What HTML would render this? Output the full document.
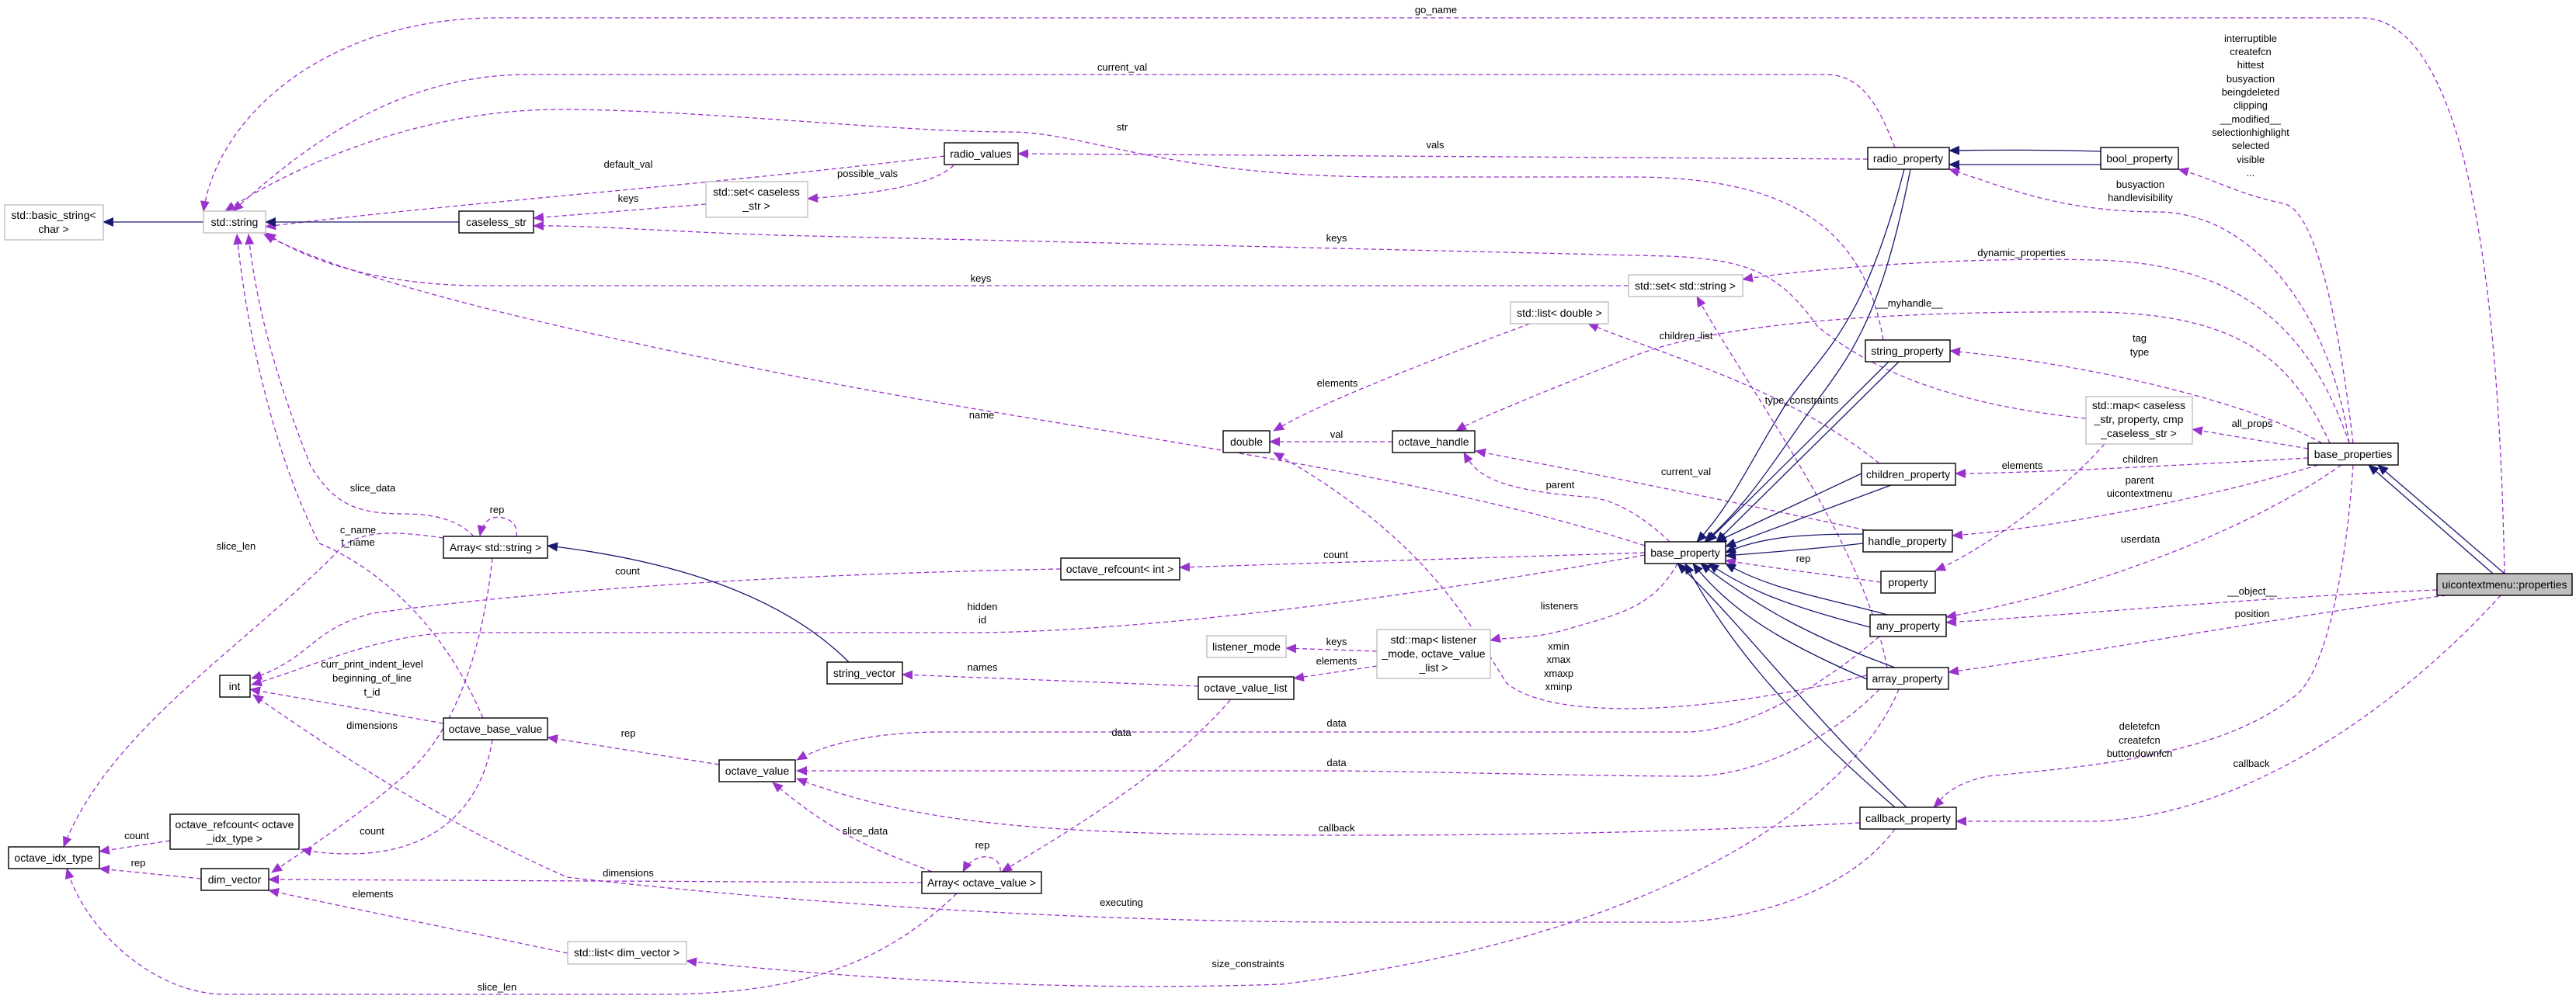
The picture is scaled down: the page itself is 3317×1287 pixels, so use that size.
<!DOCTYPE html>
<html><head><meta charset="utf-8"><style>
html,body{margin:0;padding:0;background:#fff;}
svg{display:block;}
.n{fill:#fff;stroke:#000;stroke-width:1.4;}
.g{fill:#fff;stroke:#bfbfbf;stroke-width:1.4;}
.d{fill:none;stroke:#9a32cd;stroke-width:1.3;stroke-dasharray:6,4;marker-end:url(#pa);}
.i{fill:none;stroke:#191970;stroke-width:1.3;marker-end:url(#na);}
text{font-family:"Liberation Sans",sans-serif;font-size:13px;fill:#000;text-anchor:middle;}
.t{font-size:14px;}
</style></head><body>
<svg width="3317" height="1287" viewBox="0 0 3317 1287" xmlns="http://www.w3.org/2000/svg">
<defs>
<marker id="pa" markerUnits="userSpaceOnUse" markerWidth="14" markerHeight="12" refX="13" refY="6" orient="auto"><path d="M0,0 L14,6 L0,12 z" fill="#9a32cd"/></marker>
<marker id="na" markerUnits="userSpaceOnUse" markerWidth="14" markerHeight="12" refX="13" refY="6" orient="auto"><path d="M0,0 L14,6 L0,12 z" fill="#191970"/></marker>
</defs>

<!-- dashed edges -->
<path class="d" d="M3225,739 C3220,500 3200,23 3040,23 L640,23 C420,23 280,150 262,272"/>
<path class="d" d="M2440,190 C2420,140 2400,96 2350,96 L680,96 C520,96 400,180 300,272"/>
<path class="d" d="M2425,438 C2400,290 2300,228 2100,228 L1790,228 C1500,228 1400,170 1300,170 C1150,170 900,141 720,141 C560,141 400,200 290,272"/>
<path class="d" d="M2405,205 L1311,198"/>
<path class="d" d="M1216,201 C900,240 600,260 342,292"/>
<path class="d" d="M1228,213 C1200,240 1120,250 1040,256"/>
<path class="d" d="M909,263 L687,281"/>
<path class="d" d="M2686,539 C2500,520 2400,470 2340,420 C2290,350 2250,335 2150,330 L1000,303 C850,298 760,290 687,291"/>
<path class="d" d="M2097,368 L620,368 C500,368 400,340 342,300"/>
<path class="d" d="M2118,703 C1800,600 1400,560 1000,480 C700,420 450,360 340,302"/>
<path class="d" d="M610,691 C590,670 560,662 520,662 C460,662 430,650 400,600 C360,500 330,400 320,302"/>
<path class="d" d="M622,925 C560,780 460,720 411,700 C360,600 320,450 305,302"/>
<path class="d" d="M665,691 C668,672 650,664 635,667 C625,670 620,680 618,690"/>
<path class="d" d="M571,693 C520,686 470,680 440,705 C320,830 140,940 82,1091"/>
<path class="d" d="M634,719 C620,850 580,950 520,1000 C450,1060 400,1090 350,1124"/>
<path class="d" d="M634,953 C620,1040 560,1100 450,1100 C420,1100 400,1097 388,1094"/>
<path class="d" d="M571,932 L322,888"/>
<path class="d" d="M1366,733 C1000,740 700,760 480,790 C400,810 400,850 324,874"/>
<path class="d" d="M2118,715 C1700,790 1400,815 1250,815 L580,815 C480,820 400,860 324,882"/>
<path class="d" d="M2440,1068 C2380,1150 2250,1188 2150,1188 L1750,1188 C1300,1188 900,1150 730,1130 C550,1050 420,960 326,895"/>
<path class="d" d="M2118,712 L1519,731"/>
<path class="d" d="M2160,726 C2130,780 2090,790 2020,810 C1970,825 1940,820 1919,825"/>
<path class="d" d="M1773,839 L1656,835"/>
<path class="d" d="M1773,858 L1666,874"/>
<path class="d" d="M1543,884 L1162,869"/>
<path class="d" d="M1584,902 C1500,1000 1360,1080 1290,1123"/>
<path class="d" d="M926,985 L705,950"/>
<path class="d" d="M2420,820 C2350,880 2250,943 2170,943 L1214,943 C1120,943 1060,960 1026,979"/>
<path class="d" d="M2420,888 C2350,960 2250,1000 2180,1000 C2050,1000 1800,993 1700,993 L1026,993"/>
<path class="d" d="M2395,1060 C2200,1070 2000,1076 1750,1076 C1400,1076 1200,1070 1026,1003"/>
<path class="d" d="M1200,1123 C1130,1095 1080,1080 995,1008"/>
<path class="d" d="M1288,1123 C1290,1100 1255,1095 1240,1123"/>
<path class="d" d="M1187,1137 L346,1133"/>
<path class="d" d="M1232,1151 C1150,1230 1050,1281 850,1281 L290,1281 C200,1281 110,1200 86,1119"/>
<path class="d" d="M2445,888 C2400,1000 2200,1200 1650,1268 C1300,1280 1000,1250 884,1238"/>
<path class="d" d="M731,1228 C600,1200 450,1170 346,1147"/>
<path class="d" d="M219,1083 L128,1097"/>
<path class="d" d="M259,1132 L128,1119"/>
<path class="d" d="M1970,417 C1800,480 1700,520 1640,555"/>
<path class="d" d="M1793,569 L1635,569"/>
<path class="d" d="M2150,698 C2100,650 2060,640 2040,640 C1920,630 1900,610 1885,583"/>
<path class="d" d="M2403,683 C2200,640 2050,610 1900,581"/>
<path class="d" d="M2404,870 C2200,920 2000,930 1940,880 C1900,820 1850,700 1640,583"/>
<path class="d" d="M2420,597 C2300,500 2150,460 2045,417"/>
<path class="d" d="M3000,571 C2950,460 2880,405 2700,402 C2400,400 2200,420 2100,460 C2000,500 1900,540 1875,555"/>
<path class="d" d="M3025,571 C2980,440 2900,340 2700,335 C2500,330 2300,350 2244,360"/>
<path class="d" d="M2430,860 C2400,700 2250,500 2185,382"/>
<path class="d" d="M3025,571 C3000,400 2900,275 2780,273 C2650,273 2580,240 2510,218"/>
<path class="d" d="M3030,571 C3010,400 2980,270 2940,262 C2880,250 2850,230 2805,218"/>
<path class="d" d="M2990,571 C2900,520 2700,470 2511,452"/>
<path class="d" d="M2972,578 L2823,553"/>
<path class="d" d="M2972,590 C2800,600 2600,610 2518,610"/>
<path class="d" d="M2710,572 C2650,640 2550,710 2492,735"/>
<path class="d" d="M2985,599 C2850,640 2650,680 2514,690"/>
<path class="d" d="M3015,599 C2900,680 2700,760 2506,795"/>
<path class="d" d="M3138,760 C2900,770 2700,790 2506,802"/>
<path class="d" d="M3150,767 C2900,800 2700,840 2509,866"/>
<path class="d" d="M3220,767 C3100,900 2900,1050 2700,1058 L2519,1058"/>
<path class="d" d="M3030,599 C3020,750 2990,880 2950,900 C2850,980 2650,990 2560,1000 C2510,1010 2500,1030 2490,1040"/>
<path class="d" d="M2422,750 C2350,740 2270,730 2222,722"/>

<!-- inheritance -->
<path class="i" d="M262,286 L133,286"/>
<path class="i" d="M591,286 L342,286"/>
<path class="i" d="M1093,853 C1000,760 850,720 705,703"/>
<path class="i" d="M2705,195 C2650,193 2560,193 2510,194"/>
<path class="i" d="M2705,212 L2510,212"/>
<path class="i" d="M3210,739 L3050,599"/>
<path class="i" d="M3225,739 L3062,599"/>
<path class="i" d="M2452,218 C2400,420 2350,450 2300,520 C2250,600 2230,650 2185,698"/>
<path class="i" d="M2460,218 C2420,420 2380,460 2330,530 C2280,600 2250,650 2195,698"/>
<path class="i" d="M2432,466 L2198,698"/>
<path class="i" d="M2445,466 L2210,698"/>
<path class="i" d="M2397,610 L2210,698"/>
<path class="i" d="M2435,625 L2222,704"/>
<path class="i" d="M2399,688 C2330,688 2270,690 2222,712"/>
<path class="i" d="M2399,700 C2330,708 2270,712 2222,716"/>
<path class="i" d="M2430,792 C2350,770 2280,760 2222,726"/>
<path class="i" d="M2408,808 C2300,780 2250,760 2200,726"/>
<path class="i" d="M2440,860 C2330,820 2260,780 2190,726"/>
<path class="i" d="M2404,875 C2300,830 2230,790 2180,726"/>
<path class="i" d="M2440,1040 C2300,920 2220,820 2170,726"/>
<path class="i" d="M2455,1040 C2320,910 2240,800 2160,726"/>

<!-- nodes -->
<rect class="g" x="6" y="264" width="127" height="45"/><text class="t" x="69" y="282">std::basic_string&lt;</text><text class="t" x="69" y="300">char &gt;</text>
<rect class="g" x="262" y="272" width="80" height="28"/><text class="t" x="302" y="291">std::string</text>
<rect class="n" x="591" y="272" width="96" height="28"/><text class="t" x="639" y="291">caseless_str</text>
<rect class="g" x="909" y="234" width="131" height="46"/><text class="t" x="974" y="252">std::set&lt; caseless</text><text class="t" x="974" y="270">_str &gt;</text>
<rect class="n" x="1216" y="184" width="95" height="28"/><text class="t" x="1263" y="203">radio_values</text>
<rect class="n" x="2405" y="190" width="105" height="28"/><text class="t" x="2457" y="209">radio_property</text>
<rect class="n" x="2705" y="190" width="100" height="28"/><text class="t" x="2755" y="209">bool_property</text>
<rect class="g" x="2097" y="354" width="147" height="28"/><text class="t" x="2170" y="373">std::set&lt; std::string &gt;</text>
<rect class="g" x="1945" y="389" width="126" height="28"/><text class="t" x="2008" y="408">std::list&lt; double &gt;</text>
<rect class="n" x="2402" y="438" width="109" height="28"/><text class="t" x="2456" y="457">string_property</text>
<rect class="g" x="2686" y="511" width="137" height="61"/><text class="t" x="2754" y="527">std::map&lt; caseless</text><text class="t" x="2754" y="545">_str, property, cmp</text><text class="t" x="2754" y="563">_caseless_str &gt;</text>
<rect class="n" x="2972" y="571" width="116" height="28"/><text class="t" x="3030" y="590">base_properties</text>
<rect class="n" x="1575" y="555" width="60" height="28"/><text class="t" x="1605" y="574">double</text>
<rect class="n" x="1793" y="555" width="106" height="28"/><text class="t" x="1846" y="574">octave_handle</text>
<rect class="n" x="2397" y="597" width="121" height="28"/><text class="t" x="2457" y="616">children_property</text>
<rect class="n" x="2399" y="683" width="115" height="28"/><text class="t" x="2456" y="702">handle_property</text>
<rect class="n" x="571" y="691" width="134" height="28"/><text class="t" x="638" y="710">Array&lt; std::string &gt;</text>
<rect class="n" x="2118" y="698" width="104" height="28"/><text class="t" x="2170" y="717">base_property</text>
<rect class="n" x="1366" y="719" width="153" height="28"/><text class="t" x="1442" y="738">octave_refcount&lt; int &gt;</text>
<rect class="n" x="2422" y="736" width="70" height="28"/><text class="t" x="2457" y="755">property</text>
<rect class="n" x="3138" y="739" width="174" height="28" style="fill:#bfbfbf"/><text class="t" x="3225" y="758">uicontextmenu::properties</text>
<rect class="n" x="2408" y="792" width="98" height="28"/><text class="t" x="2457" y="811">any_property</text>
<rect class="g" x="1554" y="819" width="102" height="28"/><text class="t" x="1605" y="838">listener_mode</text>
<rect class="g" x="1773" y="811" width="146" height="63"/><text class="t" x="1846" y="829">std::map&lt; listener</text><text class="t" x="1846" y="847">_mode, octave_value</text><text class="t" x="1846" y="865">_list &gt;</text>
<rect class="n" x="1065" y="853" width="97" height="28"/><text class="t" x="1113" y="872">string_vector</text>
<rect class="n" x="2404" y="860" width="105" height="28"/><text class="t" x="2456" y="879">array_property</text>
<rect class="n" x="283" y="870" width="39" height="28"/><text class="t" x="302" y="889">int</text>
<rect class="n" x="1543" y="872" width="123" height="29"/><text class="t" x="1604" y="891">octave_value_list</text>
<rect class="n" x="571" y="925" width="134" height="28"/><text class="t" x="638" y="944">octave_base_value</text>
<rect class="n" x="926" y="979" width="98" height="28"/><text class="t" x="975" y="998">octave_value</text>
<rect class="n" x="2395" y="1040" width="124" height="28"/><text class="t" x="2457" y="1059">callback_property</text>
<rect class="n" x="219" y="1049" width="166" height="45"/><text class="t" x="302" y="1067">octave_refcount&lt; octave</text><text class="t" x="302" y="1085">_idx_type &gt;</text>
<rect class="n" x="11" y="1091" width="117" height="28"/><text class="t" x="69" y="1110">octave_idx_type</text>
<rect class="n" x="259" y="1119" width="87" height="28"/><text class="t" x="302" y="1138">dim_vector</text>
<rect class="n" x="1187" y="1123" width="154" height="28"/><text class="t" x="1264" y="1142">Array&lt; octave_value &gt;</text>
<rect class="g" x="731" y="1213" width="153" height="29"/><text class="t" x="807" y="1232">std::list&lt; dim_vector &gt;</text>

<!-- labels -->
<text x="1849" y="17">go_name</text>
<text x="1445" y="91">current_val</text>
<text x="1445" y="168">str</text>
<text x="1848" y="191">vals</text>
<text x="809" y="216">default_val</text>
<text x="1117" y="228">possible_vals</text>
<text x="809" y="260">keys</text>
<text x="1721" y="311">keys</text>
<text x="1263" y="363">keys</text>
<text x="1264" y="539">name</text>
<text x="480" y="633">slice_data</text>
<text x="640" y="661">rep</text>
<text x="461" y="687">c_name</text>
<text x="461" y="703">t_name</text>
<text x="304" y="708">slice_len</text>
<text x="808" y="740">count</text>
<text x="1265" y="786">hidden</text>
<text x="1265" y="803">id</text>
<text x="479" y="860">curr_print_indent_level</text>
<text x="479" y="878">beginning_of_line</text>
<text x="479" y="896">t_id</text>
<text x="1265" y="864">names</text>
<text x="479" y="939">dimensions</text>
<text x="809" y="949">rep</text>
<text x="479" y="1075">count</text>
<text x="1114" y="1075">slice_data</text>
<text x="1265" y="1093">rep</text>
<text x="176" y="1081">count</text>
<text x="178" y="1116">rep</text>
<text x="809" y="1129">dimensions</text>
<text x="480" y="1156">elements</text>
<text x="640" y="1276">slice_len</text>
<text x="1722" y="498">elements</text>
<text x="1721" y="564">val</text>
<text x="2009" y="629">parent</text>
<text x="2171" y="612">current_val</text>
<text x="2171" y="437">children_list</text>
<text x="2320" y="520">type_constraints</text>
<text x="1720" y="719">count</text>
<text x="2322" y="724">rep</text>
<text x="2008" y="785">listeners</text>
<text x="1721" y="831">keys</text>
<text x="1721" y="856">elements</text>
<text x="2007" y="837">xmin</text>
<text x="2007" y="854">xmax</text>
<text x="2007" y="872">xmaxp</text>
<text x="2007" y="889">xminp</text>
<text x="1721" y="936">data</text>
<text x="1444" y="948">data</text>
<text x="1721" y="987">data</text>
<text x="1721" y="1071">callback</text>
<text x="1444" y="1167">executing</text>
<text x="1607" y="1246">size_constraints</text>
<text x="2898" y="54">interruptible</text>
<text x="2898" y="71">createfcn</text>
<text x="2898" y="88">hittest</text>
<text x="2898" y="106">busyaction</text>
<text x="2898" y="123">beingdeleted</text>
<text x="2898" y="140">clipping</text>
<text x="2898" y="158">__modified__</text>
<text x="2898" y="175">selectionhighlight</text>
<text x="2898" y="192">selected</text>
<text x="2898" y="210">visible</text>
<text x="2898" y="227">...</text>
<text x="2756" y="242">busyaction</text>
<text x="2756" y="259">handlevisibility</text>
<text x="2603" y="330">dynamic_properties</text>
<text x="2459" y="395">__myhandle__</text>
<text x="2755" y="440">tag</text>
<text x="2755" y="458">type</text>
<text x="2900" y="550">all_props</text>
<text x="2756" y="596">children</text>
<text x="2604" y="604">elements</text>
<text x="2755" y="623">parent</text>
<text x="2755" y="640">uicontextmenu</text>
<text x="2756" y="699">userdata</text>
<text x="2900" y="766">__object__</text>
<text x="2900" y="795">position</text>
<text x="2755" y="940">deletefcn</text>
<text x="2755" y="958">createfcn</text>
<text x="2755" y="975">buttondownfcn</text>
<text x="2899" y="988">callback</text>
</svg>
</body></html>
